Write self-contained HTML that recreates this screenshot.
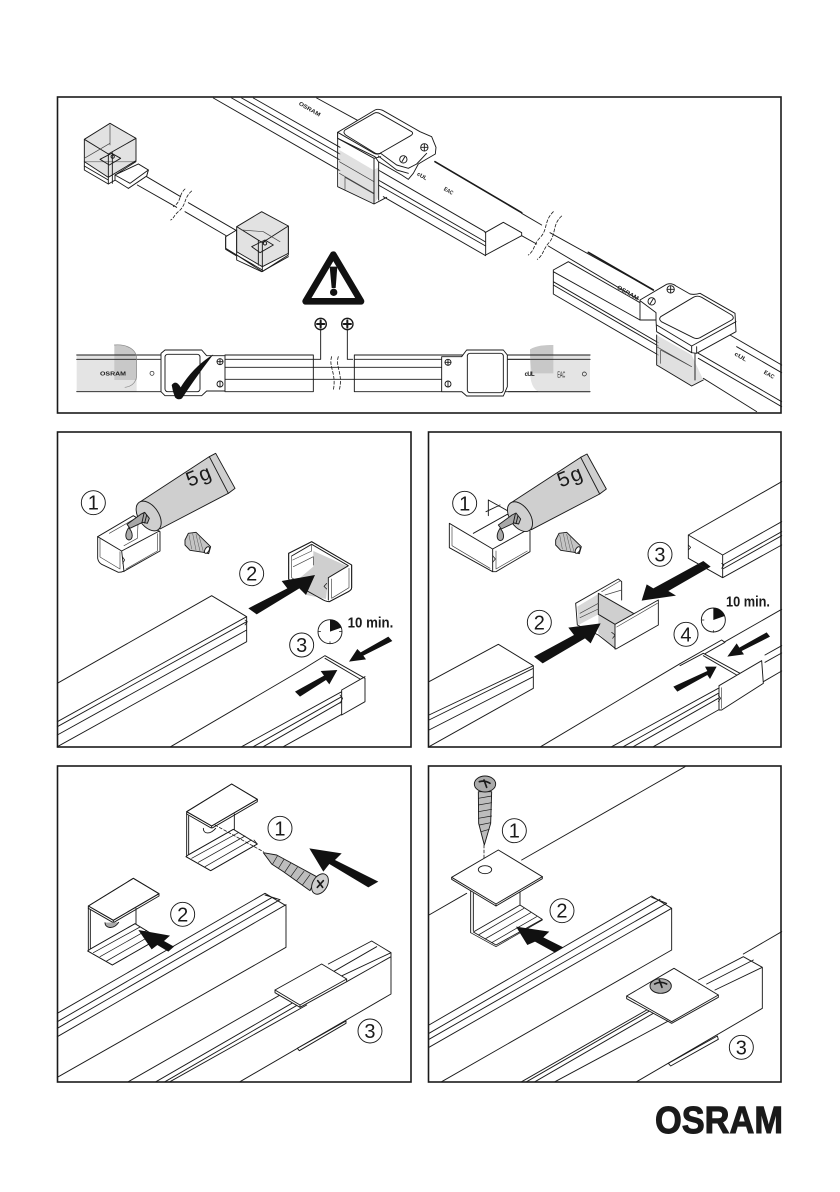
<!DOCTYPE html>
<html><head><meta charset="utf-8"><style>
html,body{margin:0;padding:0;background:#fff}
svg{display:block}
.l{fill:none;stroke:#1a1a1a;stroke-width:2.8;stroke-linejoin:round;stroke-linecap:round}
.w{fill:#fff}.g{fill:#cfcfcf}.g2{fill:#bdbdbd}.lg{fill:#e4e4e4;stroke:none}
.k{fill:#111;stroke:none}
.f{stroke-width:2;stroke:#444}
.d{stroke-dasharray:9 6;stroke-width:2.4}
.t{font-family:"Liberation Sans",sans-serif;fill:#1a1a1a}
.n{font-size:60px;text-anchor:middle}
.b{font-weight:bold;font-size:44px}
.s{font-weight:bold;font-size:17px}
</style></head><body>
<svg width="840" height="1192" viewBox="0 0 840 1192" xmlns="http://www.w3.org/2000/svg">
<rect width="840" height="1192" fill="#fff"/>
<defs>
<g id="tube">
<polygon class="g" points="268,232 478,95 497,85 555,190 535,205 330,312"/>
<path d="M478,95 L535,205"/>
<ellipse cx="296" cy="273" rx="50" ry="30" transform="rotate(55.5 296 273)" class="g"/>
<polygon points="272,268 284,262 298,280 292,295 278,292 240,310 231,298" fill="#a8a8a8"/>
<path d="M282,265 L276,292 M290,270 L284,294"/>
<path d="M236,308 C225,325 224,342 237,345 C250,343 250,322 236,308Z" fill="#aaa"/>
</g>
<g id="nut">
<polygon points="405,345 415,325 438,322 482,365 476,386 460,382 420,376 405,360" fill="#c4c4c4"/>
<path d="M417,330 L425,372 M428,326 L438,375 M438,328 L450,378 M448,336 L460,380" stroke-width="1.5" stroke="#555"/>
<ellipse cx="471" cy="375" rx="6" ry="11" transform="rotate(30 471 375)" fill="#fff"/>
</g>
<g id="clipH">
<polygon class="w" points="410,155 545,72 622,118 485,198"/>
<path d="M410,155 L545,72 L622,118 L622,125 L485,205 L410,162Z M410,155 L485,198 L622,118 M485,198 V205"/>
<path d="M410,160 V290 M416,168 V286 M553,162 V210"/>
<polygon class="w" points="408,290 482,332 622,252 550,208 416,284"/>
<path d="M408,290 L482,332 L622,252 L612,240 M550,208 L416,284 M425,295 L565,218 M445,307 L585,228 M465,320 L604,240" stroke-width="2.2"/>
</g>
</defs>

<!-- frames -->
<g fill="none" stroke="#1a1a1a" stroke-width="1.6">
<rect x="57.5" y="97" width="723.5" height="316"/>
<rect x="57.5" y="432" width="353.5" height="315"/>
<rect x="428.5" y="432" width="352.5" height="315"/>
<rect x="57.5" y="766" width="353.5" height="316"/>
<rect x="428.5" y="766" width="352.5" height="316"/>
</g>

<!-- TOP PANEL -->
<g transform="translate(50,90) scale(.33333)" class="l">
<!-- upper rails -->
<path d="M490,24 L870,242 M545,24 L870,210 M575,24 L870,192 M610,24 L870,172 M800,24 L930,95"/>
<path d="M985,240 L1305,425 M985,270 L1307,456 M985,285 L1307,468 M1000,320 L1307,497"/>
<!-- gray translucent block 1 -->
<polygon class="g" points="868,180 970,240 986,232 986,322 972,340 868,290" fill-opacity=".65" style="stroke:none"/>
<path class="f" d="M868,250 L972,310 M868,215 L972,275 M885,298 L885,262 L972,312"/>
<path d="M863,127 V290 L972,342 L1010,322"/>
<path d="M972,205 V340 M986,198 V330"/>
<!-- plate 1 -->
<path class="w" d="M863,127 L975,60 Q985,55 1000,62 L1110,125 L1145,140 L1158,172 L1156,192 L1125,210 L1105,222 L1090,250 L1075,268 L1055,255 L985,215 L975,200 L863,145Z"/>
<path d="M863,127 L972,190 Q982,195 992,190 L1040,225 L1075,235 L1100,222 L1130,190 M863,145 L972,205 L992,200 M985,198 L1040,240 L1075,250"/>
<path d="M885,120 L972,70 Q982,65 992,72 L1085,125 Q1092,131 1082,137 L990,190 Q982,193 975,189 L887,135 Q878,128 885,120Z"/>
<circle cx="1060" cy="208" r="11"/><path d="M1056,215 L1064,201"/>
<circle cx="1123" cy="172" r="11"/><path d="M1113,172 H1133 M1123,162 V182"/>
<text class="t s" transform="translate(745,44) rotate(30)" textLength="72" lengthAdjust="spacingAndGlyphs" stroke="none">OSRAM</text>
<!-- rail end 1 -->
<path class="w" d="M1305,428 L1360,397 L1415,428 L1415,437 L1307,495 L1307,428Z"/>
<path d="M1415,437 L1460,462 M1495,468 L1765,628 M1500,428 L1810,600 M1415,370 L1475,405"/>
<path d="M1155,215 L1415,368" stroke-width="5"/>
<path class="d" d="M1510,365 C1480,395 1495,420 1468,445 C1450,465 1455,480 1435,495 M1535,378 C1505,405 1520,435 1495,460 C1480,478 1480,495 1462,508"/>
<!-- right rail -->
<path d="M1510,540 L1555,515 L1770,638 M1510,540 V612 L1825,795 M1510,575 L1825,758 M1510,585 L1825,768 M1510,545 L1770,690"/>
<path d="M1615,487 L1810,600" stroke-width="5"/>
<polygon class="g" points="1820,735 1925,795 1960,870 1925,888 1820,825" fill-opacity=".65" style="stroke:none"/>
<path class="f" d="M1820,770 L1925,830 M1832,820 V780 L1925,830"/>
<path d="M1820,735 V825 L1925,888 L1960,870 M1935,790 V870"/>
<path d="M2040,735 L2195,825 M2060,770 L2195,848 M1945,790 L2195,935 M1945,805 L2195,950 M1960,865 L2120,965"/>
<!-- plate 2 -->
<path class="w" d="M1770,630 L1850,583 Q1865,578 1878,588 L1920,612 Q1935,615 1950,610 L2055,670 L2058,725 L1940,790 L1925,788 L1820,725 L1818,690 L1770,690Z"/>
<path d="M1818,690 V668 L1770,632 M1820,705 L1925,768 L2058,695 M1925,768 V788 M1940,770 V788"/>
<path d="M1832,680 L1930,622 Q1942,615 1955,622 L2045,675 Q2055,683 2045,690 L1950,743 Q1940,748 1930,743 L1834,695 Q1825,688 1832,680Z"/>
<circle cx="1805" cy="634" r="11"/><path d="M1800,642 L1810,626"/>
<circle cx="1862" cy="598" r="11"/><path d="M1852,598 H1872 M1862,588 V608"/>
<g stroke="none">
<text class="t s" transform="translate(1700,595) rotate(30)" textLength="72" lengthAdjust="spacingAndGlyphs">OSRAM</text>
<text class="t s" transform="translate(2052,795) rotate(30)" textLength="40" lengthAdjust="spacingAndGlyphs">cUL</text>
<text class="t s" transform="translate(2140,850) rotate(30)" textLength="34" lengthAdjust="spacingAndGlyphs">EAC</text>
<text class="t s" transform="translate(1100,255) rotate(30)" textLength="32" lengthAdjust="spacingAndGlyphs">cUL</text>
<text class="t s" transform="translate(1180,300) rotate(30)" textLength="30" lengthAdjust="spacingAndGlyphs">EAC</text>
</g>
<!-- clear end connector 1 -->
<path class="w" d="M103,215 V240 L175,282 L205,265 L235,295 L290,258 L295,240 L265,222 L195,255 L258,215Z"/>
<polygon class="g" points="103,148 180,100 258,145 258,212 175,262 103,215" fill-opacity=".6" style="stroke:none"/>
<path d="M103,148 L180,100 L258,145 V212 L175,262 L103,215Z M103,148 L175,192 L258,145 M175,192 V282 M187,188 V280 M103,228 L175,270"/>
<path class="f" d="M180,105 V165 M103,205 L180,160"/>
<path d="M150,208 L185,190 L212,205 L178,225Z"/><circle cx="188" cy="200" r="5"/>
<path class="w" d="M195,255 L265,222 L295,240 L290,258 L235,295 L195,270Z"/><path d="M195,255 L240,280 L295,240"/>
<path d="M290,260 L392,320 M262,285 L380,352 M415,338 L560,422 M405,365 L530,438"/>
<path class="d" d="M425,303 C400,325 410,345 385,365 C370,378 372,385 362,390 M405,297 C385,315 395,335 370,350"/>
<!-- clear connector 2 -->
<path class="w" d="M527,440 L560,420 V495 L527,475Z M560,495 L637,545 L715,495 L715,408"/>
<path d="M527,440 V478 L560,498 V510 L635,545 L715,500"/>
<polygon class="g" points="560,410 635,365 715,408 715,488 637,530 560,482" fill-opacity=".6" style="stroke:none"/>
<path d="M560,410 L635,365 L715,408 V490 L637,530 L560,485Z M560,410 L637,458 L715,408 M637,458 V542 M625,452 V525 M560,495 L637,540"/>
<path class="f" d="M575,420 L640,425 L690,455"/>
<path d="M605,470 L645,450 L670,465 L630,488Z"/><circle cx="645" cy="460" r="5"/>
<!-- warning -->
<path d="M850,494 L767,634 H933Z" stroke="#111" stroke-width="20" fill="#fff"/>
<path class="k" d="M839,530 H862 L857,594 H845Z"/><circle class="k" cx="851" cy="607" r="11"/>
<!-- plus circles -->
<circle cx="812" cy="702" r="17" stroke-width="4"/><path d="M801,702 H823 M812,691 V713" stroke-width="6"/>
<circle cx="892" cy="702" r="17" stroke-width="4"/><path d="M881,702 H903 M892,691 V713" stroke-width="6"/>
<path d="M812,720 V808 H792 M892,720 V808 H908"/>
<!-- bottom strip -->
<rect class="lg" x="80" y="795" width="180" height="110"/>
<path d="M193,765 C225,762 262,770 260,810 V870 H193Z" style="fill:#c8c8c8;stroke:none"/>
<path d="M80,795 H335 M80,808 H335 M80,905 H335" />
<path d="M260,810 V860 Q255,888 225,892 M193,765 C225,762 262,775 260,810" stroke-width="2" stroke="#888"/>
<path d="M525,795 H790 M525,808 H790 M525,832 H1210 M525,868 H1210 M525,905 H790 M790,795 V905 M913,795 V905 M913,795 H1240 M913,808 H1240 M913,905 H1620 M1372,795 H1620 M1372,808 H1620 M935,868 H955"/>
<path class="d" d="M845,800 C835,830 860,850 850,900 M865,800 C855,830 880,850 868,900"/>
<path class="w" d="M333,790 L345,780 H455 L470,797 H525 V903 H470 L455,917 H345 L333,905Z"/>
<rect x="345" y="793" width="105" height="112" rx="8"/>
<circle cx="510" cy="815" r="9"/><path d="M501,815 H519 M510,806 V824"/>
<circle cx="510" cy="882" r="9"/><path d="M510,873 V891"/>
<circle cx="306" cy="850" r="6" stroke-width="2"/>
<path class="k" d="M365,885 Q378,868 392,892 Q430,830 490,793 Q440,858 396,925 Q385,932 375,922 Q368,905 365,885Z"/>
<text class="t s" x="150" y="856" textLength="78" lengthAdjust="spacingAndGlyphs" stroke="none" fill="#444">OSRAM</text>
<g transform="translate(1110,0)">
<path d="M330,795 H510 V905 H355 Q335,895 331,860Z" style="fill:#e4e4e4;stroke:none"/>
<path d="M330,778 C350,766 375,765 400,765 V850 H335 Q330,810 330,778Z" style="fill:#c8c8c8;stroke:none"/>
<path d="M265,795 H510 M265,808 H510 M265,905 H510"/>
<path class="w" d="M65,800 H125 L140,780 H250 L262,795 V890 L250,918 H140 L125,905 H65Z"/>
<rect x="142" y="790" width="108" height="118" rx="8"/>
<circle cx="84" cy="817" r="9"/><path d="M75,817 H93 M84,808 V826"/>
<circle cx="84" cy="882" r="9"/><path d="M84,873 V891"/>
<circle cx="493" cy="852" r="6" stroke-width="2"/>
<text class="t" x="314" y="858" font-size="18" font-weight="bold" stroke="none" textLength="30">cUL</text>
<text class="t" x="412" y="862" font-size="24" stroke="none" textLength="24" lengthAdjust="spacingAndGlyphs">EAC</text>
</g>
</g>

<!-- PANEL 2 -->
<g transform="translate(50,425) scale(.33333)" class="l">
<circle cx="130" cy="233" r="36"/><text class="t n" x="130" y="254" stroke="none">1</text>
<!-- clip left -->
<path class="w" d="M143,335 L250,272 L330,320 V378 L225,437 Q215,442 205,442 L155,418 Q145,412 143,400Z"/>
<path d="M143,335 L215,378 L222,440 M215,378 L328,318"/>
<path class="f" d="M150,342 V396 L210,432 V380 M228,432 L322,378 V326"/>
<path class="f" d="M178,325 L265,275 L262,340 L222,362"/>
<path d="M217,395 L224,405 L218,415" stroke-width="2.2"/>
<use href="#tube"/>
<text class="t" transform="translate(418,186) rotate(-22)" font-size="62" stroke="none" letter-spacing="6">5g</text>
<use href="#nut"/>
<!-- open clip -->
<path class="w" d="M716,385 L785,350 L905,420 V488 Q905,495 895,500 L838,530 Q830,530 820,525 L722,470 L716,462Z"/>
<polygon class="g" points="790,378 895,425 835,458 828,522 770,510 742,465 790,425" style="stroke:none"/>
<path d="M716,385 L785,350 L905,420 V488 Q905,495 895,500 L838,530 Q830,530 820,525 L722,470 L716,462Z M725,393 L785,358 L895,422 L835,458 V525"/>
<path class="f" d="M725,393 V458 L770,488 M728,405 L785,378 M730,425 L790,395 M785,358 V378 M790,395 V420 M845,462 V520 L897,488 V430"/>
<path d="M830,475 L822,484 L830,492" stroke-width="2.2"/>
<circle cx="605" cy="446" r="36"/><text class="t n" x="605" y="467" stroke="none">2</text>
<polygon class="k" points="595,550 712,490 695,468 795,450 768,510 748,490 620,568"/>
<!-- rail 1 -->
<path d="M22,775 L485,512 L590,575 V650 L22,965 M22,890 L590,575 M22,905 L590,590 V615 M22,930 L590,615"/>
<path d="M585,585 L592,590 L585,600" stroke-width="2.2"/>
<!-- rail 2 -->
<path d="M362,965 L760,732 M760,732 L825,692 L945,760 V830 L875,870 V795 L945,755 M825,700 L930,762 M575,965 L875,800 M610,965 L875,815 M640,965 L875,830 M700,965 L875,868"/>
<path d="M870,810 L878,820 L870,835" stroke-width="2.2"/>
<polygon class="k" points="735,800 822,752 812,738 862,735 838,778 828,765 750,815"/>
<polygon class="k" points="1015,635 932,682 922,672 897,710 948,703 940,692 1027,648"/>
<circle cx="755" cy="660" r="36"/><text class="t n" x="755" y="681" stroke="none">3</text>
<circle cx="840" cy="620" r="36"/>
<path class="k" d="M840,620 V584 A36,36 0 0 1 874,608Z"/>
<path d="M840,650 V656 M806,620 H812 M868,620 H874" stroke-width="2.2"/>
<text class="t b" x="893" y="608" stroke="none" textLength="137" lengthAdjust="spacingAndGlyphs">10 min.</text>
</g>

<!-- PANEL 3 -->
<g transform="translate(420,425) scale(.33333)" class="l">
<circle cx="134" cy="235" r="36"/><text class="t n" x="134" y="256" stroke="none">1</text>
<!-- clip 1 -->
<path class="w" d="M88,295 L218,372 L330,310 V380 L228,440 L218,440 L88,368Z"/>
<path d="M218,372 V440 M160,325 L262,268 L330,312 M205,225 V272 M205,225 L325,292 M198,260 L240,240"/>
<path class="f" d="M96,305 V362 L210,430 M228,378 V432 L322,378"/>
<path d="M218,392 L226,402 L218,412" stroke-width="2.2"/>
<use href="#tube" transform="translate(4,2)"/>
<text class="t" transform="translate(422,188) rotate(-22)" font-size="62" stroke="none" letter-spacing="6">5g</text>
<use href="#nut" transform="translate(2,0)"/>
<!-- central clip -->
<polygon class="g" points="535,505 640,565 585,600 585,672 535,625 535,570" style="stroke:none"/>
<polygon points="472,545 535,507 535,568 475,600" style="fill:#d8d8d8;stroke:none"/>
<path d="M467,535 L595,462 L605,470 V525 M467,535 L472,600 L535,630 L588,672 L715,600 V525 L585,598 V672 M535,505 L640,565 M535,505 V568 L585,598"/>
<path class="f" d="M480,565 L535,535 M480,578 L535,552 M545,500 L600,468 M555,510 L605,495 M590,606 L712,535"/>
<path d="M575,622 L585,630 L578,640" stroke-width="2.2"/>
<circle cx="358" cy="592" r="36"/><text class="t n" x="358" y="613" stroke="none">2</text>
<polygon class="k" points="342,695 462,630 445,608 542,595 512,655 495,640 368,715"/>
<circle cx="720" cy="388" r="36"/><text class="t n" x="720" y="409" stroke="none">3</text>
<polygon class="k" points="850,408 700,490 680,478 665,527 768,512 745,498 872,425"/>
<!-- rail right top -->
<path d="M805,330 L1085,170 M805,330 L908,390 V458 L805,400 V330 M908,390 L1085,290 M908,420 L1085,320 M908,432 L1085,332 M908,458 L1085,360"/>
<path d="M805,360 L812,367 L805,375 M905,415 L912,420 L905,430" stroke-width="2.2"/>
<!-- rail bottom left -->
<path d="M27,770 L235,658 L340,722 V790 L27,965 M27,870 L340,722 M27,885 L340,730 V755 M27,915 L340,755"/>
<!-- rail right bottom -->
<path d="M362,965 L780,716 M915,650 L1085,553 M575,965 L895,790 M610,965 L895,805 M640,965 L895,820 M700,965 L895,855 M1035,690 L1085,662 M1035,712 L1085,684 M1030,770 L1085,738"/>
<path d="M780,716 L905,645 L915,652 L855,686 M780,722 L850,685 L960,745 M850,692 L950,750"/>
<path class="w" d="M897,782 L1025,707 L1030,775 L905,855 L897,855Z"/>
<path class="f" d="M905,788 V850"/>
<path d="M895,810 L902,820 L895,830" stroke-width="2.2"/>
<polygon class="k" points="760,785 862,738 855,725 890,725 870,762 862,750 772,800"/>
<polygon class="k" points="1040,622 958,668 950,655 922,695 972,688 965,678 1050,635"/>
<circle cx="798" cy="628" r="36"/><text class="t n" x="798" y="649" stroke="none">4</text>
<circle cx="880" cy="585" r="36"/>
<path class="k" d="M880,585 V549 A36,36 0 0 1 914,573Z"/>
<path d="M880,616 V622 M846,585 H852" stroke-width="2.2"/>
<text class="t b" x="918" y="544" stroke="none" textLength="132" lengthAdjust="spacingAndGlyphs">10 min.</text>
</g>

<!-- PANEL 4 -->
<g transform="translate(50,760) scale(.33333)" class="l">
<path d="M22,760 L645,400 L708,437 V562 L22,952 M22,785 L665,413 M22,805 L690,419 M22,830 L708,434 M645,405 L690,419"/>
<path d="M235,965 L760,665 M835,612 L965,543 L1023,578 V702 L570,965 M318,965 L760,710 M345,965 L760,725 M360,965 L770,735 M850,635 L980,560 M870,650 L1023,578 M890,665 L1023,590"/>
<use href="#clipH"/>
<path d="M460,205 C460,222 480,225 497,205" fill="#fff"/>
<path class="d" d="M495,195 L640,275"/>
<!-- screw -->
<polygon points="640,278 680,285 800,350 780,392 700,335 665,312" fill="#bdbdbd"/>
<path d="M682,288 L668,312 M702,298 L686,324 M722,310 L704,337 M742,322 L722,350 M762,334 L740,362 M780,344 L758,374" stroke-width="2"/>
<ellipse cx="810" cy="372" rx="22" ry="33" transform="rotate(30 810 372)" fill="#cfcfcf"/>
<path d="M803,362 L818,382 M820,362 L802,382" stroke-width="5"/>
<polygon class="k" points="985,365 955,382 838,312 820,335 778,265 875,280 855,300"/>
<circle cx="690" cy="205" r="36"/><text class="t n" x="690" y="226" stroke="none">1</text>
<!-- clip 2 -->
<use href="#clipH" transform="translate(-295,283)"/>
<path d="M165,488 C165,505 190,510 206,487" fill="#aaa"/>
<polygon class="k" points="265,510 360,527 342,543 372,560 355,575 322,555 305,568"/>
<circle cx="398" cy="463" r="36"/><text class="t n" x="398" y="484" stroke="none">2</text>
<!-- plate -->
<path class="w" d="M675,690 L815,612 L890,657 V665 L750,742 L675,698Z"/>
<path d="M675,690 L750,735 L890,657 M750,735 V742"/>
<path class="w" d="M742,865 L888,783 V790 L748,872Z"/>
<circle cx="960" cy="813" r="36"/><text class="t n" x="960" y="834" stroke="none">3</text>
</g>

<!-- PANEL 5 -->
<g transform="translate(420,760) scale(.33333)" class="l">
<path d="M27,465 L140,400 M305,300 L795,20 M65,965 L755,570 V445 L695,408 L27,795 M27,820 L720,418 M27,838 L740,430 M27,862 L755,445 M695,412 L740,430"/>
<path d="M305,965 L680,750 M320,965 L690,752 M345,965 L700,760 M405,965 L760,775 M650,965 L1027,745 V622 L970,590 L835,660 M885,690 L1027,622 M860,672 L1000,600 M1085,515 L970,582"/>
<!-- screw -->
<path fill="#bdbdbd" d="M175,95 L215,95 L212,190 L193,255 L176,190Z"/>
<path d="M175,115 L215,108 M175,135 L215,128 M175,155 L215,148 M175,175 L215,168 M178,195 L212,188 M183,215 L208,208" stroke-width="2"/>
<ellipse cx="195" cy="72" rx="32" ry="24" fill="#aaa"/>
<path d="M178,65 Q195,60 210,70 M192,60 L200,82" stroke-width="5"/>
<path class="d" d="M192,255 V320"/>
<!-- plate + clip -->
<path d="M152,392 V518 M160,400 V512 M300,388 V435"/>
<path class="w" d="M160,516 L300,435 L367,478 L228,555 Z"/>
<path d="M152,518 L228,560 L367,480 M175,525 L312,445 M195,537 L332,458 M215,548 L350,470" stroke-width="2.2"/>
<path class="w" d="M95,352 L235,270 L367,350 V356 L228,438 L95,358Z"/>
<path d="M95,352 L228,432 L367,350 M228,432 V438"/>
<ellipse cx="195" cy="329" rx="20" ry="12"/>
<polygon class="k" points="288,500 388,515 370,532 430,562 405,578 345,545 322,555"/>
<circle cx="283" cy="212" r="36"/><text class="t n" x="283" y="233" stroke="none">1</text>
<circle cx="426" cy="452" r="36"/><text class="t n" x="426" y="473" stroke="none">2</text>
<!-- plate 3 -->
<path class="w" d="M620,708 L762,625 L895,705 V712 L755,790 L620,716Z"/>
<path d="M620,708 L755,785 L895,705"/>
<ellipse cx="722" cy="678" rx="32" ry="22" fill="#aaa"/>
<path d="M704,672 Q722,662 740,672 M718,660 L726,682" stroke-width="5"/>
<path class="w" d="M745,910 L892,828 L895,838 L752,918Z"/>
<circle cx="964" cy="862" r="36"/><text class="t n" x="964" y="883" stroke="none">3</text>
</g>

<!-- OSRAM logo -->
<text x="655" y="1133" font-family="Liberation Sans, sans-serif" font-weight="bold" font-size="38" fill="#1a1a1a" stroke="#1a1a1a" stroke-width="1" textLength="128" lengthAdjust="spacingAndGlyphs">OSRAM</text>
</svg>
</body></html>
